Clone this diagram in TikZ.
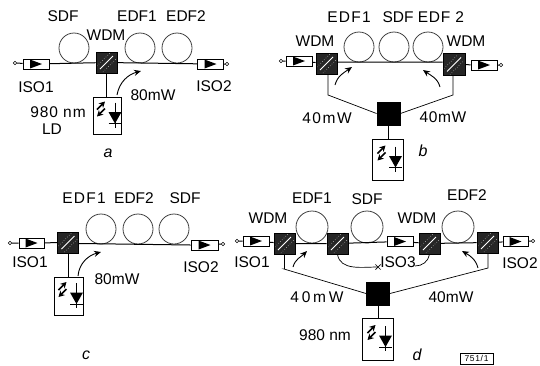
\documentclass[tikz,border=0pt]{standalone}
\usepackage{fontspec}
\setmainfont{Liberation Sans}
\usetikzlibrary{arrows.meta,shapes.misc}
\begin{document}
\begin{tikzpicture}[x=1pt,y=-1pt,line width=0.9pt,
 lbl/.style={font=\fontsize{15.5}{16}\selectfont,inner sep=0pt},
 wide/.style={font=\fontsize{15.5}{16}\selectfont\addfontfeature{LetterSpace=#1},inner sep=0pt},
 panel/.style={font=\fontsize{16}{16}\selectfont\itshape,inner sep=0pt},
 coil/.style={draw=black!75,circle,line width=0.8pt,minimum size=#1,inner sep=0pt},
 coil/.default=30pt,
 port/.style={draw,circle,minimum size=3.5pt,inner sep=0pt,line width=0.6pt,fill=white},
 pumparrow/.style={-{Stealth[length=7pt,width=6pt]},line width=0.9pt},
 fibre/.style={line width=1pt},
 isobox/.style={draw,fill=white,inner sep=0pt,minimum width=#1,minimum height=10pt,line width=0.8pt},
 isobox/.default=26pt,
 wdmbox/.style={draw,fill=black!85,inner sep=0pt,minimum size=21pt,path picture={
   \draw[white,line width=1pt] ([xshift=4pt,yshift=4pt]path picture bounding box.south west) -- ([xshift=-4pt,yshift=-4pt]path picture bounding box.north east);
   \draw[white!80!black,line width=0.5pt,dotted] ([xshift=1pt,yshift=7pt]path picture bounding box.south west) -- ([xshift=-7pt,yshift=-1pt]path picture bounding box.north east);
   \draw[white!80!black,line width=0.5pt,dotted] ([xshift=7pt,yshift=1pt]path picture bounding box.south west) -- ([xshift=-1pt,yshift=-7pt]path picture bounding box.north east);
 }},
 coupler/.style={draw,fill=black,inner sep=0pt,minimum size=23pt},
 ldbox/.style={draw,fill=white,inner sep=0pt,minimum width=#1,line width=0.8pt},
]
\useasboundingbox (0,0) rectangle (540,365);
\newcommand{\isotri}[1]{\fill[black] ([xshift=-6pt,yshift=-4.5pt]#1.center) -- ([xshift=6pt]#1.center) -- ([xshift=-6pt,yshift=4.5pt]#1.center) -- cycle;}
\newcommand{\ldsym}[1]{%
 \draw[line width=0.9pt] ([xshift=8pt,yshift=13pt]#1.center) -- ([xshift=8pt,yshift=-12pt]#1.center);
 \fill ([xshift=1.5pt,yshift=3.5pt]#1.center) -- ([xshift=14.5pt,yshift=3.5pt]#1.center) -- ([xshift=8pt,yshift=-8pt]#1.center) -- cycle;
 \draw[line width=0.9pt] ([xshift=1.5pt,yshift=-8pt]#1.center) -- ([xshift=14.5pt,yshift=-8pt]#1.center);
 \draw[-{Stealth[length=6pt,width=6.5pt]},line width=1.5pt] ([xshift=-10pt,yshift=6pt]#1.center) -- ([xshift=-2pt,yshift=14pt]#1.center);
 \draw[-{Stealth[length=6pt,width=6.5pt]},line width=1.5pt] ([xshift=-2pt,yshift=7pt]#1.center) -- ([xshift=-10pt,yshift=-1pt]#1.center);
}

% ---------- panel a
\node[port] (aIn) at (15,63) {};
\node[port] (aOut) at (227,64) {};
\node[wdmbox] (aW) at (106.5,62.5) {};
\node[isobox] (aI1) at (36,64) {};
\node[isobox] (aI2) at (210.5,64) {};
\node[ldbox=28pt,minimum height=37pt] (aL) at (107,115.5) {};
\node[coil] (aC1) at (74,48) {};
\node[coil] (aC2) at (140,48) {};
\node[coil] (aC3) at (177,48) {};
\draw[fibre] (aIn) -- (aI1) -- (aW) -- (aI2) -- (aOut);
\node[isobox] at (aI1) {}; \node[isobox] at (aI2) {};
\isotri{aI1}\isotri{aI2}
\draw (aW) -- (aL.north -| aW);
\ldsym{aL}
\coordinate (aA) at (117,95); \coordinate (aB) at (141,71);
\draw[pumparrow] (aA) to[out=80,in=195] (aB);
\node[lbl] at (63,16) {SDF};
\node[lbl] at (137,16) {EDF1};
\node[lbl] at (186,16) {EDF2};
\node[lbl] at (106,35) {WDM};
\node[lbl] at (36,87) {ISO1};
\node[lbl] at (214,86) {ISO2};
\node[lbl] at (153,95) {80mW};
\node[wide=6] at (58,112) {980 nm};
\node[lbl] at (52,129) {LD};
\node[panel] at (108,153) {a};

% ---------- panel b
\node[port] (bIn) at (281,61) {};
\node[port] (bOut) at (501,65) {};
\node[wdmbox] (bW1) at (326.5,63.5) {};
\node[wdmbox,minimum size=22pt] (bW2) at (454,64.5) {};
\node[isobox] (bI1) at (299,61) {};
\node[isobox] (bI2) at (484,65) {};
\node[coupler] (bK) at (388.5,113.5) {};
\node[ldbox=31pt,minimum height=41pt] (bL) at (387.5,159.5) {};
\node[coil] (bC1) at (359,47) {};
\node[coil] (bC2) at (394,47) {};
\node[coil] (bC3) at (428,47) {};
\draw[fibre] (bIn) -- (bI1) -- (bW1) (bW1.east |- 0,62) -- (bW2.west |- 0,62) (bW2) -- (bI2) -- (bOut);
\node[isobox] at (bI1) {}; \node[isobox] at (bI2) {};
\isotri{bI1}\isotri{bI2}
\draw[line width=0.7pt] (328,74) |- (328,95) -- (bK.west);
\draw[line width=0.7pt] (453,75.5) |- (453,95) -- (bK.east);
\draw (bK) -- (bL.north -| bK);
\ldsym{bL}
\coordinate (bA) at (335,85); \coordinate (bB) at (352,67);
\coordinate (bD) at (440,87); \coordinate (bE) at (423,70);
\draw[pumparrow] (bA) to[out=75,in=215] (bB);
\draw[pumparrow] (bD) to[out=105,in=-35] (bE);
\node[wide=8] at (349,17) {EDF1};
\node[lbl] at (398,17) {SDF};
\node[wide=5] at (441,17) {EDF 2};
\node[lbl] at (315,41) {WDM};
\node[lbl] at (466,41) {WDM};
\node[wide=10] at (327,118) {40mW};
\node[wide=4] at (443,117) {40mW};
\node[panel] at (423,151) {b};

% ---------- panel c
\node[port] (cIn) at (10,243) {};
\node[port] (cOut) at (223,244) {};
\node[wdmbox] (cW) at (68,242.5) {};
\node[isobox=25pt] (cI1) at (31.5,243) {};
\node[isobox=27pt] (cI2) at (204.5,245) {};
\node[ldbox=29pt,minimum height=38pt] (cL) at (68.5,296) {};
\node[coil] (cC1) at (101,229) {};
\node[coil] (cC2) at (138,229) {};
\node[coil] (cC3) at (174,229) {};
\draw[fibre] (cIn) -- (cI1) -- (cW) (cW.east |- 0,243.5) -- (cI2.west) (cI2) -- (cOut);
\node[isobox=25pt] at (cI1) {}; \node[isobox=27pt] at (cI2) {};
\isotri{cI1}\isotri{cI2}
\draw (cW) -- (cL.north -| cW);
\ldsym{cL}
\coordinate (cA) at (78,276); \coordinate (cB) at (101,252);
\draw[pumparrow] (cA) to[out=85,in=195] (cB);
\node[wide=8] at (84,198) {EDF1};
\node[lbl] at (134,198) {EDF2};
\node[lbl] at (185,198) {SDF};
\node[lbl] at (30,262) {ISO1};
\node[lbl] at (201,267) {ISO2};
\node[lbl] at (117,279) {80mW};
\node[panel] at (86,355) {c};

% ---------- panel d
\node[port] (dIn) at (237,241) {};
\node[port] (dOut) at (533,241) {};
\node[wdmbox] (dW1) at (284.5,243.5) {};
\node[wdmbox] (dW2) at (337.5,243.5) {};
\node[wdmbox] (dW3) at (429.5,243.5) {};
\node[wdmbox] (dW4) at (487.5,242.5) {};
\node[isobox] (dI1) at (256,241) {};
\node[isobox] (dI3) at (400,241.5) {};
\node[isobox=25pt] (dI2) at (515.5,241.5) {};
\node[coupler] (dK) at (378,293.5) {};
\node[ldbox=31pt,minimum height=42pt] (dL) at (377.5,339) {};
\node[coil=32pt] (dC1) at (312,227) {};
\node[coil=32pt] (dC2) at (367,227) {};
\node[coil=32pt] (dC3) at (458,227) {};
\draw[fibre] (dIn) -- (dI1) -- (dW1) -- (dW2) -- (dI3) -- (dW3) -- (dW4) -- (dI2) -- (dOut);
\node[isobox] at (dI1) {}; \node[isobox] at (dI3) {}; \node[isobox=25pt] at (dI2) {};
\isotri{dI1}\isotri{dI3}\isotri{dI2}
\draw[line width=0.7pt] (dW1.south) |- (284,269) -- (dK.west);
\draw[line width=0.7pt] (dW4.south -| 488,0) |- (488,268) -- (dK.east);
\draw (dK) -- (dL.north -| dK);
\ldsym{dL}
\coordinate (dA) at (293,267); \coordinate (dB) at (307,251);
\coordinate (dD) at (478,268); \coordinate (dE) at (462,251);
\coordinate (dY) at (415,266);
\node[cross out,draw,line width=0.7pt,minimum size=4.5pt,inner sep=0pt] (dX) at (378,267) {};
\draw[pumparrow] (dA) to[out=75,in=225] (dB);
\draw[pumparrow] (dD) to[out=105,in=-30] (dE);
\draw[line width=0.7pt] (dW2.south) to[out=-80,in=180] (dX.center);
\draw[line width=0.7pt] (dY) to[out=0,in=-100] (dW3.south);
\node[lbl] at (312,198) {EDF1};
\node[lbl] at (367,199) {SDF};
\node[lbl] at (467,195) {EDF2};
\node[lbl] at (268,218) {WDM};
\node[lbl] at (417,218) {WDM};
\node[lbl] at (252,262) {ISO1};
\node[lbl] at (398,262) {ISO3};
\node[lbl] at (520,263) {ISO2};
\node[wide=18] at (317,297) {40mW};
\node[lbl] at (451,297) {40mW};
\node[lbl] at (325,335) {980 nm};
\node[panel] at (417,355) {d};
\node[draw,line width=0.5pt,inner sep=0pt,minimum width=33pt,minimum height=11pt,font=\fontsize{8.5}{9}\selectfont\addfontfeature{LetterSpace=8}] (tag) at (476.5,358.5) {751/1};
\end{tikzpicture}
\end{document}
